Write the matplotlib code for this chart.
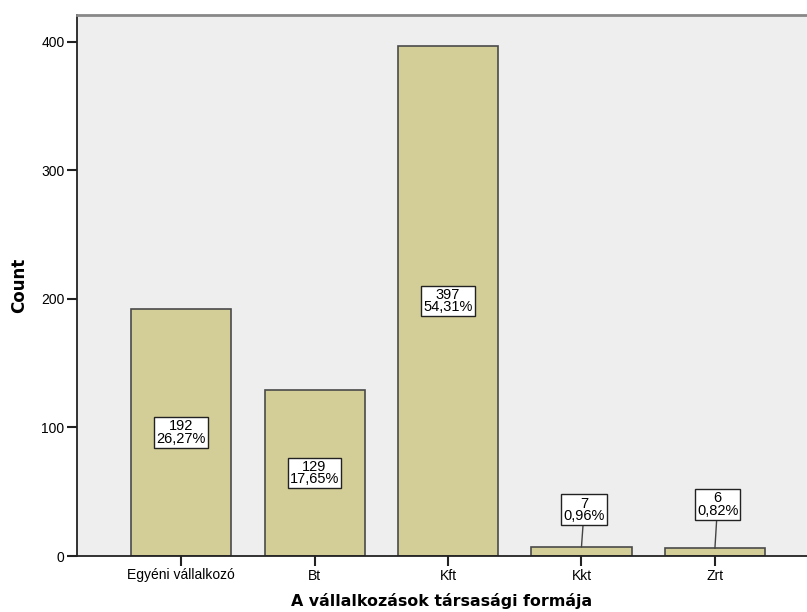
import matplotlib.pyplot as plt

# Vállalkozások száma társasági forma szerint
categories = ['Egyéni vállalkozó', 'Bt', 'Kft', 'Kkt', 'Zrt']
counts = [192, 129, 397, 7, 6]
percents = ['26,27%', '17,65%', '54,31%', '0,96%', '0,82%']

bar_color = '#D3CE97'
bg_color = '#EEEEEE'

fig = plt.figure(figsize=(8.07, 6.12), dpi=100)
ax = fig.add_axes([77 / 807, 56 / 612, 730 / 807, 541 / 612])
ax.set_facecolor(bg_color)

x = list(range(len(categories)))
ax.bar(x, counts, width=0.75, color=bar_color, edgecolor='#4a4a4a', linewidth=1.2, zorder=2)

ax.set_xlim(-0.78, 4.69)
ax.set_ylim(0, 421)
ax.set_yticks([0, 100, 200, 300, 400])
ax.set_xticks(x)
ax.set_xticklabels(categories, fontsize=10, family='Liberation Sans')
for lbl in ax.get_yticklabels():
    lbl.set_fontsize(10)
    lbl.set_family('Liberation Sans')
ax.tick_params(axis='both', direction='out', length=7, width=1.5, color='#222222', pad=2)

ax.spines['right'].set_visible(False)
ax.spines['top'].set_color('#888888')
ax.spines['top'].set_linewidth(2)
ax.spines['left'].set_color('#222222')
ax.spines['bottom'].set_color('#222222')
ax.spines['left'].set_linewidth(1.3)
ax.spines['bottom'].set_linewidth(1.3)

# tengelycímek helye axes koordinátában
ax.set_ylabel('Count', fontsize=12, fontweight='bold')
ax.yaxis.set_label_coords(-49 / 730, 0.5)
ax.set_xlabel('A vállalkozások társasági formája', fontsize=11.4, fontweight='bold')
ax.xaxis.set_label_coords(0.5, -37 / 541)

box = dict(boxstyle='square,pad=0.15', facecolor='white', edgecolor='#222222', linewidth=1)
for xi, c, p in zip(x, counts, percents):
    text = f'{c}\n{p}'
    if c > 50:
        ax.text(xi, c / 2, text, ha='center', va='center', fontsize=10.5,
                family='Liberation Sans', linespacing=0.85, bbox=box, zorder=4)
    else:
        # kis oszlopoknál a címke fölötte, vezetővonallal
        ax.annotate(text, xy=(xi, c), xytext=(xi + 0.02, 36 if c == 7 else 40),
                    ha='center', va='center', fontsize=10.5, family='Liberation Sans',
                    linespacing=0.85, bbox=box, zorder=4,
                    arrowprops=dict(arrowstyle='-', color='#444444', lw=1,
                                    shrinkA=0, shrinkB=0))

fig.savefig('out.png', dpi=100, facecolor='white')
